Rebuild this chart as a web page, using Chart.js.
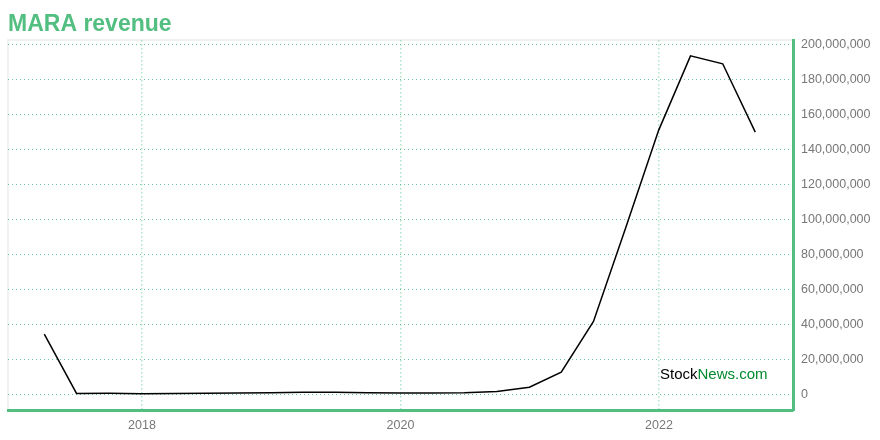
<!DOCTYPE html>
<html>
<head>
<meta charset="utf-8">
<script src="https://cdn.jsdelivr.net/npm/chart.js@4"></script>
<style>
  html, body { margin: 0; padding: 0; background: #fff; }
  #wrap { width: 880px; height: 440px; position: relative; }
</style>
</head>
<body>
<div id="wrap"><canvas id="revenueChart" width="880" height="440"></canvas></div>
<script>
// Данные: квартальная выручка MARA
const quarterDates = [
    '2017-03-31', '2017-06-30', '2017-09-30', '2017-12-31',
    '2018-03-31', '2018-06-30', '2018-09-30', '2018-12-31',
    '2019-03-31', '2019-06-30', '2019-09-30', '2019-12-31',
    '2020-03-31', '2020-06-30', '2020-09-30', '2020-12-31',
    '2021-03-31', '2021-06-30', '2021-09-30', '2021-12-31',
    '2022-03-31', '2022-06-30', '2022-09-30'
];
const revenue = [
    34700000, 900000, 1000000, 700000,
    800000, 1000000, 1200000, 1300000,
    1500000, 1500000, 1300000, 1200000,
    1200000, 1300000, 2000000, 4400000,
    13000000, 42000000, 96000000, 151000000,
    193500000, 189000000, 150000000
];
const yearTicks = [2018, 2020, 2022];
const valueTicks = [0, 20000000, 40000000, 60000000, 80000000, 100000000,
    120000000, 140000000, 160000000, 180000000, 200000000];

const green = '#52be80';

// дата -> дробный год
function toYear(s) {
    const d = new Date(s + 'T00:00:00Z');
    const y = d.getUTCFullYear();
    const start = Date.UTC(y, 0, 1);
    const end = Date.UTC(y + 1, 0, 1);
    return y + (d.getTime() - start) / (end - start);
}

const points = quarterDates.map((d, i) => ({ x: toYear(d), y: revenue[i] }));

// Рамка области графика и водяной знак
const decor = {
    id: 'decor',
    beforeDraw(chart) {
        const { ctx, chartArea: a } = chart;
        ctx.save();
        ctx.strokeStyle = '#f1f1f1';
        ctx.lineWidth = 2;
        ctx.beginPath();
        ctx.moveTo(a.left, a.bottom);
        ctx.lineTo(a.left, a.top);
        ctx.lineTo(a.right, a.top);
        ctx.stroke();
        ctx.restore();
    },
    afterDatasetsDraw(chart) {
        const { ctx, chartArea: a } = chart;
        ctx.save();
        ctx.font = '15px "Liberation Sans", Arial, sans-serif';
        ctx.textBaseline = 'alphabetic';
        const x = a.right - 133;
        const y = a.bottom - 31;
        ctx.fillStyle = '#000';
        ctx.fillText('Stock', x, y);
        const w = ctx.measureText('Stock').width;
        ctx.fillStyle = '#008a2e';
        ctx.fillText('News.com', x + w, y);
        ctx.restore();
    }
};

const ctx = document.getElementById('revenueChart').getContext('2d');
const chart = new Chart(ctx, {
    type: 'line',
    data: {
        datasets: [{
            label: 'MARA revenue',
            data: points,
            borderColor: '#000',
            borderWidth: 1.5,
            pointRadius: 0,
            fill: false,
            tension: 0
        }]
    },
    options: {
        responsive: false,
        animation: false,
        layout: { padding: { left: 8, right: 0, top: 0, bottom: 0 } },
        plugins: {
            legend: { display: false },
            tooltip: { enabled: false },
            title: {
                display: true,
                text: 'MARA revenue',
                align: 'start',
                color: green,
                font: { family: '"Liberation Sans", Arial, sans-serif', size: 23, weight: 'bold' },
                padding: { top: 11, bottom: 1.4 }
            }
        },
        scales: {
            x: {
                type: 'linear',
                min: 2016.963,
                max: 2023.037,
                afterBuildTicks: s => { s.ticks = yearTicks.map(v => ({ value: v })); },
                afterFit: s => { s.height = 30; },
                ticks: {
                    color: '#777',
                    font: { family: '"Liberation Sans", Arial, sans-serif', size: 12.5 },
                    padding: 8,
                    maxRotation: 0,
                    callback: v => String(v)
                },
                grid: { color: 'rgba(110, 210, 160, 0.55)', drawTicks: false, lineWidth: 1.5 },
                border: { display: true, color: green, width: 3, dash: [1.5, 2.5] }
            },
            y: {
                position: 'right',
                min: -8560000,
                max: 202570000,
                afterBuildTicks: s => { s.ticks = valueTicks.map(v => ({ value: v })); },
                afterFit: s => { s.width = 87; },
                ticks: {
                    color: '#777',
                    font: { family: '"Liberation Sans", Arial, sans-serif', size: 12.5 },
                    padding: 8,
                    callback: v => v.toLocaleString('en-US')
                },
                grid: { color: 'rgba(80, 195, 140, 0.85)', drawTicks: false, lineWidth: 1 },
                border: { display: true, color: green, width: 3, dash: [1, 3] }
            }
        }
    },
    plugins: [decor]
});
</script>
</body>
</html>
